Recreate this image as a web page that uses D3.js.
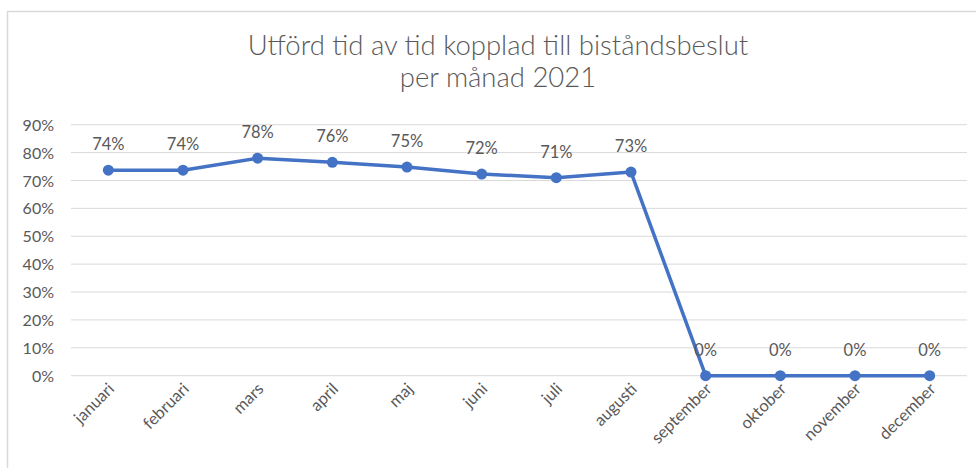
<!DOCTYPE html>
<html><head><meta charset="utf-8">
<script src="https://cdn.jsdelivr.net/npm/d3@7"></script>
<style>body{margin:0;background:#fff}svg{display:block}</style>
</head><body>
<svg id="c" width="976" height="468"></svg>
<script>
const months = ["januari","februari","mars","april","maj","juni","juli","augusti","september","oktober","november","december"];
const values = [0.737,0.737,0.78,0.765,0.748,0.723,0.71,0.73,0,0,0,0];
const valueLabels = ["74%","74%","78%","76%","75%","72%","71%","73%","0%","0%","0%","0%"];
const yTicks = [0,0.1,0.2,0.3,0.4,0.5,0.6,0.7,0.8,0.9];
const titleLines = ["Utförd tid av tid kopplad till biståndsbeslut","per månad 2021"];

const svg = d3.select("#c");
const font = "Lato, 'Open Sans', sans-serif";
const grey = "#595959";

svg.append("rect").attr("x",7.5).attr("y",11.5).attr("width",990).attr("height",480)
  .attr("fill","#fff").attr("stroke","#d9d9d9").attr("stroke-width",1.5);

const x = d3.scaleBand().domain(months).range([71,967]);
const y = d3.scaleLinear().domain([0,0.9]).range([375.7,124.7]);

svg.append("g").selectAll("line").data(yTicks).join("line")
  .attr("x1",71).attr("x2",967).attr("y1",d=>y(d)).attr("y2",d=>y(d))
  .attr("stroke","#d9d9d9").attr("stroke-width",1);

const yAxis = d3.axisLeft(y).tickValues(yTicks).tickFormat(d3.format(".0%")).tickSize(0).tickPadding(0);
const ga = svg.append("g").attr("transform","translate(54,0)").call(yAxis);
ga.select(".domain").remove();
ga.selectAll("text").attr("font-family",font).attr("font-size",16).attr("fill",grey).attr("dy","0.35em");

const xAxis = d3.axisBottom(x).tickSize(0).tickPadding(0);
const gx = svg.append("g").attr("transform","translate(0,390)").call(xAxis);
gx.select(".domain").remove();
gx.selectAll("text").attr("font-family",font).attr("font-size",16.5).attr("fill",grey)
  .attr("text-anchor","end").attr("dy","0").attr("y",0).attr("x",0)
  .attr("transform","translate(7,0) rotate(-45)");

const cx = d => x(d) + x.bandwidth()/2;
const line = d3.line().x((d,i)=>cx(months[i])).y(d=>y(d));
svg.append("path").datum(values).attr("d",line).attr("fill","none")
  .attr("stroke","#4472C4").attr("stroke-width",3.5).attr("stroke-linejoin","round");
svg.append("g").selectAll("circle").data(values).join("circle")
  .attr("cx",(d,i)=>cx(months[i])).attr("cy",d=>y(d)).attr("r",5.5).attr("fill","#4472C4");

svg.append("g").selectAll("text").data(values).join("text")
  .attr("x",(d,i)=>cx(months[i])).attr("y",d=>y(d)-20)
  .attr("text-anchor","middle").attr("font-family",font).attr("font-size",16.5).attr("fill",grey)
  .text((d,i)=>valueLabels[i]);

svg.append("g").selectAll("text").data(titleLines).join("text")
  .attr("x",498).attr("y",(d,i)=>55+i*32).attr("text-anchor","middle")
  .attr("font-family",font).attr("font-weight",300).attr("font-size",27.5).attr("fill",grey).text(d=>d);
</script>
</body></html>
